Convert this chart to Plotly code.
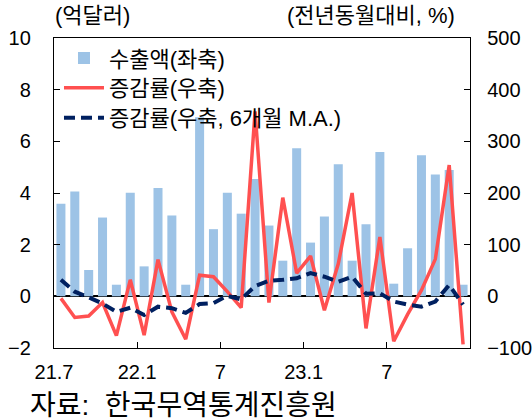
import plotly.graph_objects as go
import numpy as np

months = ["21.7", "21.8", "21.9", "21.10", "21.11", "21.12",
          "22.1", "22.2", "22.3", "22.4", "22.5", "22.6",
          "22.7", "22.8", "22.9", "22.10", "22.11", "22.12",
          "23.1", "23.2", "23.3", "23.4", "23.5", "23.6",
          "23.7", "23.8", "23.9", "23.10", "23.11", "23.12"]

exports = [3.58, 4.06, 1.02, 3.05, 0.45, 4.01, 1.16, 4.19, 3.13, 0.45,
           6.93, 2.60, 4.01, 3.20, 4.54, 2.74, 1.38, 5.73, 2.08, 3.09,
           5.11, 1.38, 2.79, 5.59, 0.49, 1.86, 5.46, 4.72, 4.89, 0.45]

growth = [-4, -41, -38, -12, -76, 32, -75, 71, -30, -83,
          41, 38, 9, -22, 358, -12, 191, 45, 78, -27,
          63, 200, -62, 115, -87, -35, 12, 72, 254, -93]

growth_ma = [32, 9, -2, -14, -30, -22, -36, -20, -23, -32,
             -15, -13, 1, -6, 20, 30, 32, 35, 45, 38,
             28, 38, 5, 6, -10, -16, -20, -10, 22, -16]

tick_months = ["21.7", "22.1", "22.7", "23.1", "23.7"]
tick_labels = ["21.7", "22.1", "7", "23.1", "7"]

x = np.arange(len(months))
tick_pos = [months.index(m) - 0.5 for m in tick_months]

FONT = "Arial, Liberation Sans, Noto Sans CJK KR, sans-serif"

fig = go.Figure()
fig.add_trace(go.Bar(x=x, y=exports, name="수출액(좌축)",
                     marker=dict(color="#9DC3E6", line=dict(width=0)),
                     legend="legend"))
fig.add_trace(go.Scatter(x=x, y=growth, name="증감률(우축)", yaxis="y2",
                         mode="lines", line=dict(color="#FF5050", width=3.5),
                         legend="legend2"))
fig.add_trace(go.Scatter(x=x, y=growth_ma, name="증감률(우축, 6개월 M.A.)", yaxis="y2",
                         mode="lines", line=dict(color="#002060", width=4, dash="11px,6px"),
                         legend="legend3"))

leg = dict(x=0.012, xanchor="left", yanchor="middle",
           bgcolor="rgba(0,0,0,0)", font=dict(size=22), itemwidth=40)

fig.update_layout(
    width=532, height=420,
    margin=dict(l=54, r=62, t=38, b=72),
    paper_bgcolor="white", plot_bgcolor="white",
    font=dict(family=FONT, size=20, color="black"),
    bargap=0.35,
    showlegend=True,
    legend=dict(leg, y=0.935),
    legend2=dict(leg, y=0.839),
    legend3=dict(leg, y=0.742),
    xaxis=dict(range=[-0.5, len(months) - 0.5], tickvals=tick_pos, ticktext=tick_labels,
               ticks="inside", ticklen=6, tickcolor="black", showline=True, mirror=True,
               linecolor="black", linewidth=1.3, showgrid=False, zeroline=False,
               ticklabelstandoff=6, automargin=False),
    yaxis=dict(range=[-2, 10], dtick=2, ticks="inside", ticklen=6, tickcolor="black",
               showline=True, mirror=True, linecolor="black", linewidth=1.3,
               showgrid=False, zeroline=True, zerolinecolor="black", zerolinewidth=1.5,
               ticklabelstandoff=18, automargin=False),
    yaxis2=dict(range=[-100, 500], dtick=100, overlaying="y", side="right",
                ticks="inside", ticklen=6, tickcolor="black", showline=True,
                linecolor="black", linewidth=1.3, showgrid=False, zeroline=False,
                ticklabelstandoff=12, automargin=False),
    annotations=[
        dict(text="(억달러)", xref="paper", yref="paper", x=-0.002, y=1,
             xanchor="left", yanchor="middle", yshift=23, showarrow=False,
             font=dict(size=22)),
        dict(text="(전년동월대비, %)", xref="paper", yref="paper", x=0.969, y=1,
             xanchor="right", yanchor="middle", yshift=23, showarrow=False,
             font=dict(size=22)),
        dict(text="자료:  한국무역통계진흥원", xref="paper", yref="paper", x=-0.063, y=-0.184,
             xanchor="left", yanchor="middle", showarrow=False,
             font=dict(size=28)),
    ],
)

fig.write_html("out.html", config={"displayModeBar": False},
               post_script="document.body.style.margin='0';")
